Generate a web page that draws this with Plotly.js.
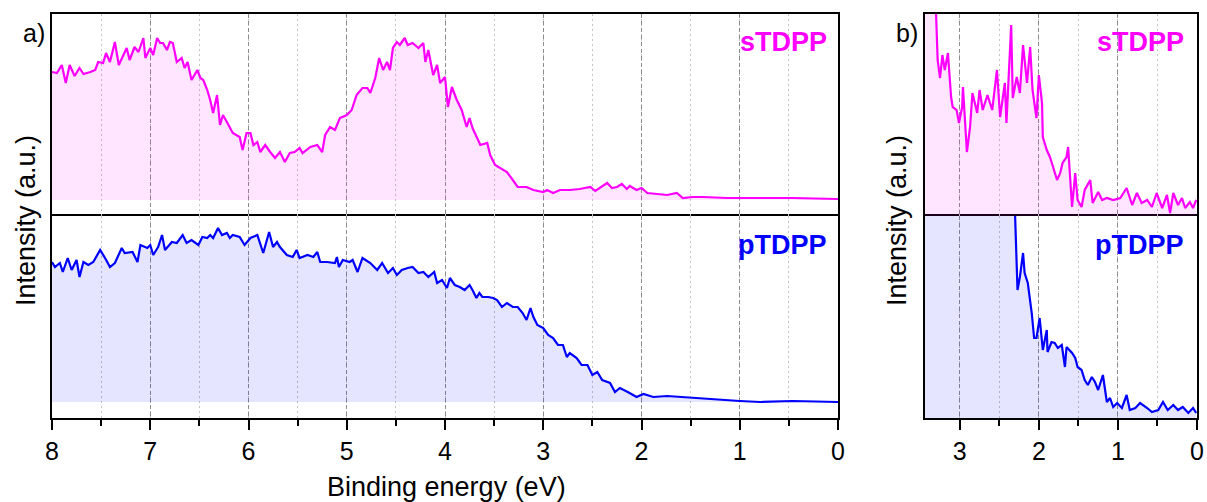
<!DOCTYPE html>
<html>
<head>
<meta charset="utf-8">
<script src="https://cdn.plot.ly/plotly-3.0.1.min.js"></script>
<style>html,body{margin:0;padding:0;background:#fff;}#chart{width:1207px;height:502px;}</style>
</head>
<body>
<div id="chart"></div>
<script>
// ---- panel a) sTDPP ----
const sX_a = [8.00,7.95,7.90,7.86,7.82,7.77,7.72,7.68,7.61,7.56,7.53,7.48,7.45,7.41,7.36,7.32,7.24,7.21,7.16,7.12,7.07,7.05,7.00,6.97,6.93,6.90,6.87,6.83,6.80,6.77,6.73,6.68,6.65,6.62,6.58,6.52,6.49,6.46,6.42,6.39,6.36,6.32,6.29,6.26,6.22,6.16,6.09,6.06,6.02,5.98,5.95,5.91,5.88,5.83,5.78,5.73,5.68,5.63,5.58,5.53,5.48,5.45,5.37,5.30,5.25,5.22,5.17,5.12,5.07,5.00,4.95,4.90,4.84,4.79,4.76,4.71,4.67,4.63,4.59,4.56,4.53,4.49,4.46,4.41,4.38,4.33,4.27,4.22,4.20,4.17,4.12,4.08,4.05,4.00,3.97,3.93,3.88,3.83,3.78,3.75,3.72,3.64,3.57,3.54,3.49,3.44,3.37,3.31,3.26,3.17,3.10,3.00,2.96,2.90,2.83,2.76,2.73,2.63,2.52,2.47,2.42,2.35,2.30,2.25,2.20,2.15,2.12,2.05,2.00,1.94,1.84,1.74,1.64,1.58,1.48,1.37,1.13,0.79,0.46,0.00];
const sY_a = [128,127,135,117,135,124,132,126,128,130,138,137,147,138,158,135,152,140,153,148,162,142,152,145,162,157,157,150,158,157,138,142,132,138,120,130,122,120,110,100,87,105,75,85,78,67,63,50,67,67,55,58,48,55,48,42,48,38,47,48,52,47,53,55,48,65,73,70,82,85,90,105,112,112,107,122,142,130,138,130,152,158,155,162,155,157,152,157,138,150,125,135,117,123,93,113,100,90,73,82,72,55,57,45,35,32,28,20,13,13,10,8,10,7,10,10,10,11,13,9,12,17,12,13,16,11,14,10,12,7,6,5,7,2,3,3,2,2,2,1];

// ---- panel a) pTDPP ----
const pX_a = [8.00,7.97,7.92,7.89,7.84,7.80,7.75,7.72,7.68,7.63,7.58,7.51,7.46,7.41,7.36,7.29,7.26,7.18,7.13,7.10,7.03,7.00,6.97,6.92,6.88,6.85,6.78,6.73,6.67,6.63,6.58,6.51,6.47,6.42,6.39,6.36,6.31,6.27,6.22,6.19,6.16,6.09,6.04,5.98,5.91,5.85,5.79,5.75,5.71,5.68,5.61,5.55,5.51,5.48,5.40,5.34,5.30,5.27,5.20,5.12,5.10,5.08,5.04,4.97,4.94,4.89,4.84,4.76,4.69,4.64,4.58,4.53,4.49,4.44,4.38,4.33,4.27,4.22,4.17,4.11,4.08,4.03,3.98,3.95,3.90,3.85,3.80,3.75,3.72,3.68,3.65,3.62,3.56,3.51,3.47,3.42,3.37,3.31,3.26,3.21,3.17,3.13,3.10,3.06,3.00,2.95,2.90,2.85,2.80,2.76,2.73,2.66,2.61,2.55,2.50,2.45,2.40,2.32,2.27,2.22,2.14,2.05,1.98,1.88,1.74,1.61,1.48,1.33,1.17,1.00,0.79,0.46,0.00];
const pY_a = [140,135,139,130,144,132,142,125,140,137,140,152,144,135,139,154,149,150,140,157,154,157,147,155,167,152,160,159,167,159,162,157,165,164,167,164,174,167,169,164,167,165,157,164,167,149,170,155,160,155,147,145,152,144,147,145,150,140,140,139,145,135,142,140,142,130,144,139,132,139,129,134,127,132,134,135,129,130,125,130,119,122,114,124,117,115,112,117,112,104,109,105,105,104,102,95,99,95,95,89,82,94,85,77,74,67,64,57,57,45,49,44,37,37,27,30,22,19,10,14,10,5,8,5,6,5,4,3,2,1,0,1,0];

// ---- panel b) sTDPP ----
const sX_b = [3.44,3.38,3.30,3.28,3.25,3.22,3.19,3.15,3.11,3.09,3.04,3.01,2.97,2.96,2.91,2.87,2.84,2.78,2.75,2.71,2.65,2.59,2.53,2.49,2.43,2.41,2.35,2.33,2.28,2.24,2.20,2.15,2.11,2.08,2.03,2.00,1.96,1.95,1.90,1.86,1.82,1.77,1.73,1.70,1.65,1.63,1.58,1.54,1.51,1.46,1.42,1.35,1.32,1.25,1.20,1.14,1.06,0.97,0.89,0.82,0.76,0.70,0.63,0.57,0.51,0.44,0.38,0.34,0.30,0.24,0.19,0.15,0.09,0.05,0.01];
const sY_b = [320,260,202,156,138,161,146,163,119,109,106,93,109,129,64,89,123,103,126,106,121,106,146,99,133,93,191,118,139,123,171,133,169,126,98,141,113,79,66,59,49,36,43,53,59,69,9,43,16,9,26,36,13,24,16,18,16,18,28,11,23,13,16,9,23,8,21,3,23,11,18,8,14,8,16];

// ---- panel b) pTDPP ----
const pX_b = [3.44,2.35,2.30,2.28,2.27,2.24,2.20,2.18,2.14,2.09,2.06,2.03,1.99,1.95,1.92,1.90,1.89,1.84,1.80,1.76,1.71,1.67,1.65,1.58,1.54,1.51,1.46,1.42,1.38,1.33,1.29,1.25,1.19,1.14,1.10,1.06,1.01,0.95,0.89,0.85,0.78,0.72,0.63,0.57,0.49,0.43,0.37,0.30,0.24,0.18,0.11,0.05,0.01];
const pY_b = [400,300,201,148,128,141,165,145,135,105,80,80,100,68,80,88,66,76,75,70,73,51,71,65,60,51,48,38,33,41,36,28,43,16,20,11,15,10,23,8,10,15,10,6,8,16,8,13,8,11,5,10,5];

const xTicksA = [8,7,6,5,4,3,2,1,0];
const xTicksB = [3,2,1,0];
const seriesNames = ['sTDPP','pTDPP'];
const panelLabels = ['a)','b)'];
const yTitle = 'Intensity (a.u.)';
const xTitle = 'Binding energy (eV)';

const MAG = '#FF00FF', BLU = '#0000FF';
const FONT = 'Liberation Sans, Arial, sans-serif';
const W = 1207, H = 502;
const px = v => v / W;
const py = v => 1 - v / H;

function tr(x, y, xa, ya, col, fillc){
  return {x: x, y: y, xaxis: xa, yaxis: ya, type: 'scatter', mode: 'lines',
    line: {color: col, width: 2.2}, fill: 'tozeroy', fillcolor: fillc,
    hoverinfo: 'skip', showlegend: false};
}
const data = [
  tr(sX_a, sY_a, 'x2', 'y2', MAG, 'rgba(255,0,255,0.10)'),
  tr(pX_a, pY_a, 'x', 'y', BLU, 'rgba(0,0,255,0.10)'),
  tr(sX_b, sY_b, 'x4', 'y4', MAG, 'rgba(255,0,255,0.10)'),
  tr(pX_b, pY_b, 'x3', 'y3', BLU, 'rgba(0,0,255,0.10)')
];

const domA = [px(52), px(838)], domB = [px(925), px(1197)];
const domTop = [py(216), py(14)], domBot = [py(418), py(216)];

function xax(dom, range, ticks, anchor, bottom){
  return {domain: dom, range: range, anchor: anchor, autorange: false,
    side: bottom ? 'bottom' : 'top',
    tickmode: 'array', tickvals: ticks, ticktext: ticks.map(String),
    showticklabels: bottom, ticks: bottom ? 'outside' : '', ticklen: 10, tickwidth: 2, tickcolor: '#000',
    tickfont: {family: FONT, size: 25, color: '#000'},
    showline: true, mirror: bottom, linecolor: '#000', linewidth: 2,
    showgrid: true, gridcolor: '#8c8c8c', griddash: '4px,3px', gridwidth: 1,
    zeroline: false,
    minor: {dtick: 0.5, tick0: 0, ticks: bottom ? 'outside' : '', ticklen: 6, tickwidth: 2, tickcolor: '#000',
      showgrid: true, gridcolor: '#c4c4c4', griddash: '2px,3px', gridwidth: 1}};
}
function yax(dom, range, anchor){
  return {domain: dom, range: range, anchor: anchor, autorange: false,
    showticklabels: false, ticks: '', showgrid: false, zeroline: false,
    showline: true, mirror: true, linecolor: '#000', linewidth: 2};
}

const ann = [];
function a(text, x, y, opts){
  ann.push(Object.assign({text: text, x: x, y: y, xref: 'paper', yref: 'paper', showarrow: false,
    xanchor: 'center', yanchor: 'middle', font: {family: FONT, size: 25, color: '#000'}}, opts || {}));
}
a(panelLabels[0], px(34), py(33));
a(panelLabels[1], px(907), py(33));
a('<b>' + seriesNames[0] + '</b>', px(829), py(42), {xanchor: 'right', font: {family: FONT, size: 27, color: MAG}});
a('<b>' + seriesNames[1] + '</b>', px(829), py(245), {xanchor: 'right', font: {family: FONT, size: 27, color: BLU}});
a('<b>' + seriesNames[0] + '</b>', px(1186), py(42), {xanchor: 'right', font: {family: FONT, size: 27, color: MAG}});
a('<b>' + seriesNames[1] + '</b>', px(1186), py(245), {xanchor: 'right', font: {family: FONT, size: 27, color: BLU}});
a(yTitle, px(26), py(221), {textangle: -90, font: {family: FONT, size: 27, color: '#000'}});
a(yTitle, px(897), py(221), {textangle: -90, font: {family: FONT, size: 27, color: '#000'}});
a(xTitle, px(446), py(487), {font: {family: FONT, size: 27, color: '#000'}});

const layout = {
  width: W, height: H, margin: {l: 0, r: 0, t: 0, b: 0},
  paper_bgcolor: '#fff', plot_bgcolor: 'rgba(0,0,0,0)', showlegend: false,
  font: {family: FONT, color: '#000'},
  xaxis: xax(domA, [8, 0], xTicksA, 'y', true),
  yaxis: yax(domBot, [-16, 186], 'x'),
  xaxis2: xax(domA, [8, 0], xTicksA, 'y2', false),
  yaxis2: yax(domTop, [-16, 186], 'x2'),
  xaxis3: xax(domB, [3.44, 0], xTicksB, 'y3', true),
  yaxis3: yax(domBot, [0, 202], 'x3'),
  xaxis4: xax(domB, [3.44, 0], xTicksB, 'y4', false),
  yaxis4: yax(domTop, [0, 202], 'x4'),
  annotations: ann
};

Plotly.newPlot('chart', data, layout, {staticPlot: true, displayModeBar: false});
</script>
</body>
</html>
